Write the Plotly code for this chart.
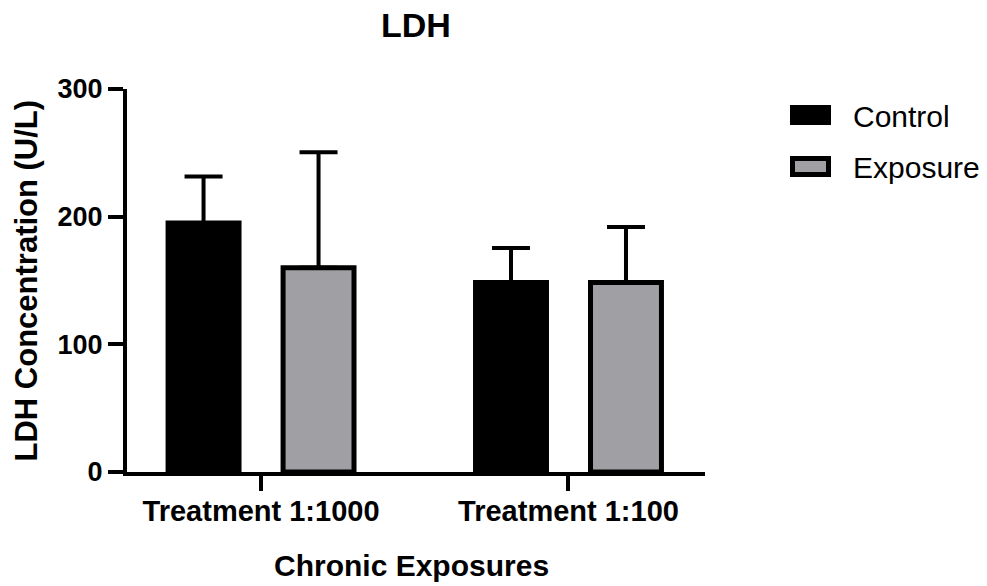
import plotly.graph_objects as go

# LDH concentration, mean and SD per group
categories = ["Treatment 1:1000", "Treatment 1:100"]
control_mean = [195, 148.5]
control_sd = [36.5, 27]
exposure_mean = [160, 148.5]
exposure_sd = [90.5, 43.5]
y_ticks = [0, 100, 200, 300]
series_names = ["Control", "Exposure"]

BLACK = "#000000"
GREY = "#a0a0a4"
FONT = "Liberation Sans, Arial, Helvetica, sans-serif"

W, H = 987, 586
M_L, M_R, M_T, M_B = 127, 282, 89, 114
PW = W - M_L - M_R
PH = H - M_T - M_B


def px_x(p):
    return (p - M_L) / PW


def px_y(p):
    return (H - M_B - p) / PH


fig = go.Figure()
for name, means, sds, fill in [
    (series_names[0], control_mean, control_sd, BLACK),
    (series_names[1], exposure_mean, exposure_sd, GREY),
]:
    fig.add_trace(go.Bar(
        x=categories, y=means, name=name,
        marker=dict(color=fill, line=dict(color=BLACK, width=5)),
        error_y=dict(type="data", array=sds, arrayminus=[0] * len(sds),
                     symmetric=False, color=BLACK, thickness=4, width=19),
        showlegend=False,
    ))

# Hand-drawn legend: wide swatches with labels
swatches = [(BLACK, 105, 125), (GREY, 156, 177)]
shapes = []
annotations = []
for (fill, top, bot), name in zip(swatches, series_names):
    shapes.append(dict(type="rect", xref="paper", yref="paper",
                       x0=px_x(792.5), x1=px_x(828.5), y0=px_y(bot - 2.5), y1=px_y(top + 2.5),
                       fillcolor=fill, line=dict(color=BLACK, width=5)))
    annotations.append(dict(text=name, xref="paper", yref="paper",
                            x=px_x(851), y=px_y((top + bot) / 2 + 1), xanchor="left", yanchor="middle",
                            showarrow=False, font=dict(family=FONT, size=30, color=BLACK)))

# Axis titles
annotations.append(dict(text="<b>Chronic Exposures</b>", xref="paper", yref="paper",
                        x=px_x(411.7), y=px_y(565), xanchor="center", yanchor="middle",
                        showarrow=False, font=dict(family=FONT, size=30, color=BLACK)))
annotations.append(dict(text="<b>LDH Concentration (U/L)</b>", xref="paper", yref="paper",
                        x=px_x(26), y=0.5, xanchor="center", yanchor="middle", textangle=-90,
                        showarrow=False, font=dict(family=FONT, size=31, color=BLACK)))

fig.update_layout(
    width=W, height=H,
    margin=dict(l=M_L, r=M_R, t=M_T, b=M_B, autoexpand=False),
    paper_bgcolor="white", plot_bgcolor="white",
    barmode="group", bargap=0.252, bargroupgap=0.383,
    title=dict(text="<b>LDH</b>", x=0.5, xref="paper", xanchor="center",
               y=1 - 25 / H, yref="container", yanchor="middle",
               font=dict(family=FONT, size=34, color=BLACK)),
    shapes=shapes, annotations=annotations,
    font=dict(family=FONT, color=BLACK),
)
fig.update_xaxes(
    range=[-0.436, 1.444], showline=True, linecolor=BLACK, linewidth=4,
    ticks="outside", ticklen=15, tickwidth=4, tickcolor=BLACK,
    showgrid=False, zeroline=False, ticklabelstandoff=-5,
    tickfont=dict(family=FONT, size=29, color=BLACK),
    tickvals=categories, ticktext=["<b>" + c + "</b>" for c in categories],
)
fig.update_yaxes(
    range=[0, 300], tickvals=y_ticks, ticktext=["<b>%d</b>" % v for v in y_ticks],
    showline=True, linecolor=BLACK, linewidth=4,
    ticks="outside", ticklen=15, tickwidth=4, tickcolor=BLACK,
    showgrid=False, zeroline=False,
    tickfont=dict(family=FONT, size=27, color=BLACK),
)

fig.write_html("out.html")
